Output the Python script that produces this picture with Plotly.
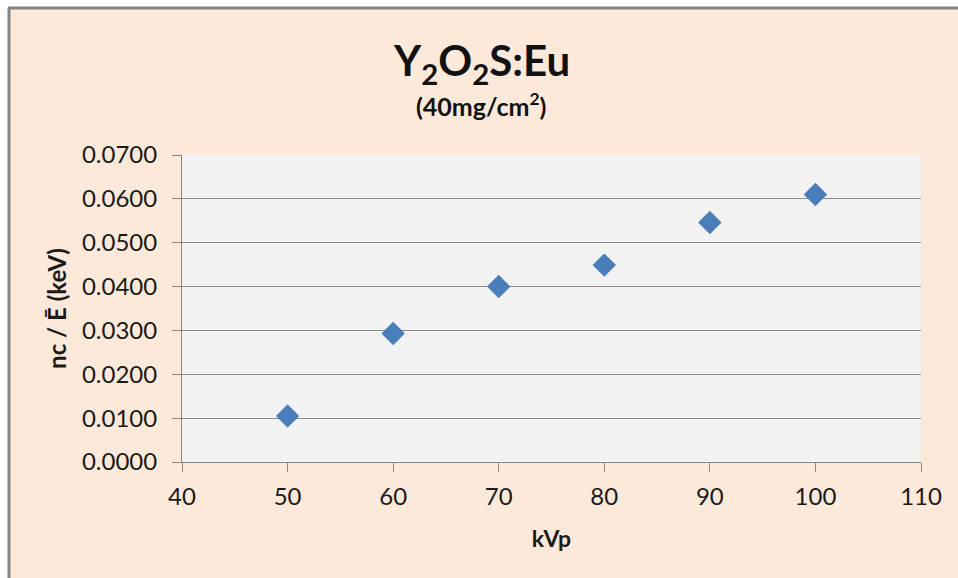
import plotly.graph_objects as go

# Measured light output per mean photon energy at each tube voltage
kvp = [50, 60, 70, 80, 90, 100]
nc_per_e = [0.0105, 0.0293, 0.0400, 0.0449, 0.0546, 0.0610]

x_ticks = [40, 50, 60, 70, 80, 90, 100, 110]
y_ticks = [0.0, 0.01, 0.02, 0.03, 0.04, 0.05, 0.06, 0.07]

W, H = 958, 578
L, R, T, B = 182, 37, 155, 116
FONT = "Lato"
TXT = "#1A1A1A"
PEACH = "#FDE9D9"

fig = go.Figure(
    go.Scatter(
        x=kvp,
        y=nc_per_e,
        mode="markers",
        marker=dict(symbol="diamond", size=18, color="#4A7EBB",
                    line=dict(width=0)),
        showlegend=False,
    )
)

axis_common = dict(
    showline=True,
    linecolor="#868686",
    linewidth=1,
    ticks="outside",
    ticklen=9,
    tickcolor="#868686",
    tickfont=dict(family=FONT, size=24, color=TXT),
    zeroline=False,
)

fig.update_xaxes(
    range=[40, 110],
    tickvals=x_ticks,
    ticktext=[str(v) for v in x_ticks],
    showgrid=False,
    ticklabelstandoff=4,
    title=dict(text="<b>kVp</b>", font=dict(family=FONT, size=23, color=TXT),
               standoff=22),
    **axis_common,
)
fig.update_yaxes(
    range=[0, 0.07],
    tickvals=y_ticks,
    ticktext=[f"{v:.4f}" for v in y_ticks],
    showgrid=True,
    gridcolor="#8C8C8C",
    gridwidth=1,
    ticklabelstandoff=10,
    title=dict(text="<b>nc / Ē (keV)</b>", font=dict(family=FONT, size=24, color=TXT),
               standoff=8),
    **axis_common,
)

# Chart frame: white strips outside the grey left/top border of the peach area
px_x = lambda p: (p - L) / (W - L - R)
px_y = lambda p: (H - B - p) / (H - T - B)
for x0, x1, y0, y1 in [(0, 8, 0, H), (0, W, 0, 7)]:
    fig.add_shape(
        type="rect", xref="paper", yref="paper", layer="below",
        x0=px_x(x0), x1=px_x(x1), y0=px_y(y1), y1=px_y(y0),
        fillcolor="#FFFFFF", line=dict(width=0),
    )
fig.add_shape(
    type="line", xref="paper", yref="paper", layer="below",
    x0=px_x(9), x1=px_x(9), y0=px_y(H), y1=px_y(8),
    line=dict(color="#848484", width=3),
)
fig.add_shape(
    type="line", xref="paper", yref="paper", layer="below",
    x0=px_x(8), x1=px_x(W), y0=px_y(8), y1=px_y(8),
    line=dict(color="#848484", width=3),
)

fig.add_annotation(
    text="<b>Y<sub>2</sub>O<sub>2</sub>S:Eu</b>",
    xref="paper", yref="paper", x=px_x(481), y=px_y(63),
    showarrow=False, font=dict(family=FONT, size=42, color="#111111"),
    xanchor="center", yanchor="middle",
)
fig.add_annotation(
    text="<b>(40mg/cm<sup>2</sup>)</b>",
    xref="paper", yref="paper", x=px_x(481), y=px_y(105),
    showarrow=False, font=dict(family=FONT, size=25, color="#111111"),
    xanchor="center", yanchor="middle",
)

fig.update_layout(
    width=W,
    height=H,
    margin=dict(l=L, r=R, t=T, b=B),
    paper_bgcolor=PEACH,
    plot_bgcolor="#F2F2F2",
)

fig.write_html(
    "out.html",
    post_script="document.documentElement.style.overflow='hidden';"
                "document.body.style.overflow='hidden';",
)
